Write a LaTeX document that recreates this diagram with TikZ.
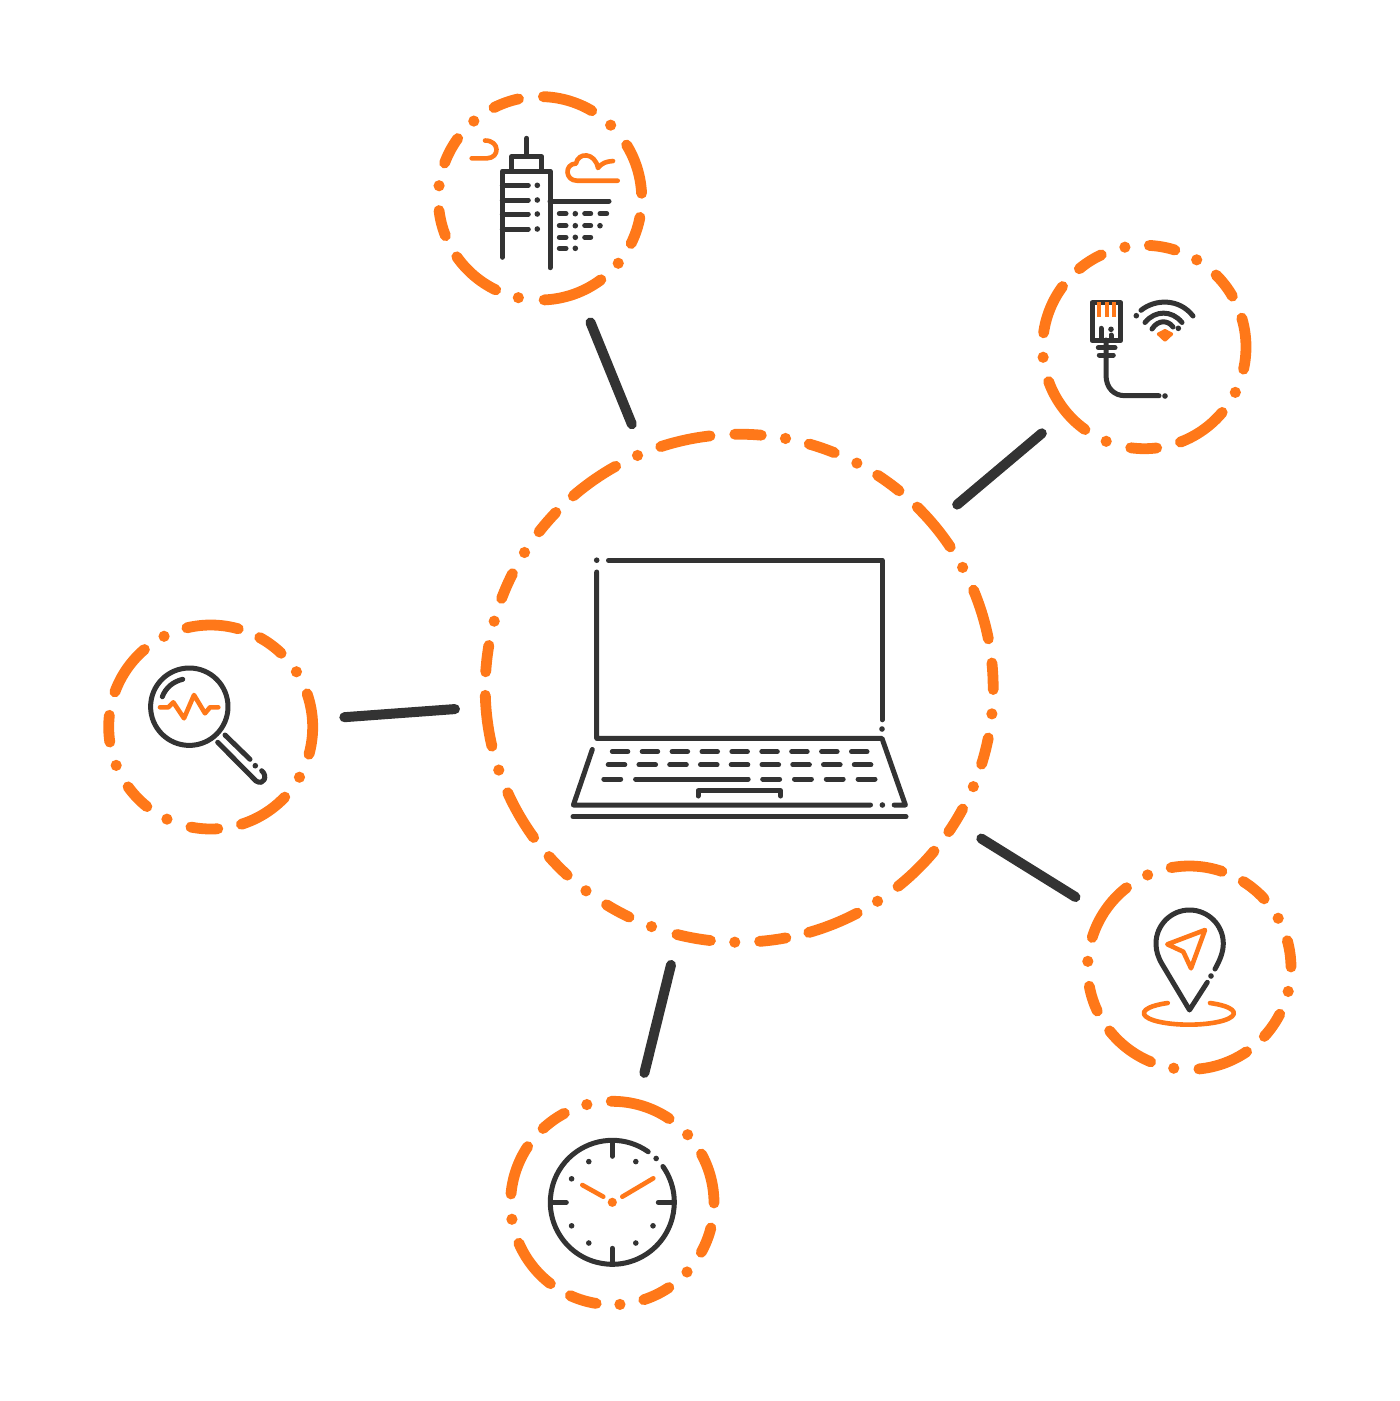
\documentclass[tikz,border=0pt]{standalone}
\definecolor{ringorange}{RGB}{255,120,25}
\definecolor{icondark}{RGB}{51,51,51}
\usetikzlibrary{positioning}
\tikzset{
    hubspot/.style={circle, minimum size=570pt, inner sep=0pt, outer sep=0pt},
    sitespot/.style={circle, minimum size=268pt, inner sep=0pt, outer sep=0pt},
    link/.style={draw=icondark, line width=10pt, line cap=round},
    ringline/.style={draw=ringorange, line width=10.8pt, line cap=round},
    ringdot/.style={fill=ringorange},
    icon/.style={draw=icondark, line width=5pt, line cap=round, line join=round},
    iconhot/.style={draw=ringorange, line width=4.6pt, line cap=round, line join=round},
    icondot/.style={fill=icondark}
}
\newcommand{\ringmarks}[4]{
    \foreach \a/\b in {#3}
        \draw[ringline] ([shift={(\a:#2)}]#1.center) arc[start angle=\a, end angle=\b, radius=#2];
    \foreach \a in {#4}
        \fill[ringdot] ([shift={(\a:#2)}]#1.center) circle (5.6);
}
\begin{document}
\begin{tikzpicture}[x=1pt, y=-1pt]
    \useasboundingbox (0,0) rectangle (1400,1401);
    \node[hubspot] (hub) at (739.2,688.2) {};
    \node[sitespot] (office) at (540,198.3) {};
    \node[sitespot] (wifi) at (1144.3,347) {};
    \node[sitespot] (search) at (210.7,727) {};
    \node[sitespot] (nav) at (1189.3,967.7) {};
    \node[sitespot] (clock) at (612.3,1203) {};

    \draw[link] (hub) -- (office);
    \draw[link] (hub) -- (wifi);
    \draw[link] (hub) -- (search);
    \draw[link] (hub) -- (nav);
    \draw[link] (hub) -- (clock);

    \ringmarks{hub}{254}{269/275, 286/292, 303/309, 314.5/326.2, 337.3/348.8, 354.3/360.3,
        11.3/17.4, 28.4/34.4, 39.9/51.3, 62.3/74.1, 79.4/85.4, 96.5/104.2, 115.7/121.5,
        132.6/138.5, 144/155.7, 166.8/178.4, 183.7/189.7, 200.7/206.8, 218/223.8, 229.2/240.9, 252/263.4}
        {280.5, 297.6, 331.6, 5.8, 22.8, 57, 91, 110.2, 127.1, 161.2, 195.3, 212.3, 246.4}
    \ringmarks{office}{101.7}{243.1/257.8, 271.9/300.6, 328.4/357.2, 10.8/26.4, 53.2/87.7,
        115.8/144.9, 158.4/173.1, 200.3/216}
        {314, 39.7, 102.3, 187.1, 229.4}
    \ringmarks{wifi}{101.7}{230.3/245, 272.8/287.5, 314.9/330, 343.5/372.6, 40/69.2, 83/97.7,
        125.7/160.1, 188/216.5}
        {259, 301, 26.5, 112, 174.2}
    \ringmarks{search}{102}{256.5/285.7, 298.7/313.7, 341/375.5, 43.4/72.5, 86/101.2,
        128.7/144.1, 171.5/186.6, 200.1/229.5}
        {327.2, 29.5, 115.4, 157.9, 242.8}
    \ringmarks{nav}{101.7}{259.7/288.7, 302/317.4, 344.6/359.6, 27.2/42.5, 55.7/84.6,
        112.3/141.6, 154.8/169.5, 197.3/231.9}
        {330.9, 13.5, 98.8, 183.6, 245.8}
    \ringmarks{clock}{101.7}{269.4/304, 331.2/360, 14.2/29, 56.2/72, 99.1/114.4,
        127.5/156.7, 185.1/213.7, 227.1/241.9}
        {317.8, 42.7, 85.7, 170.8, 255.5}

    \draw[icon] (608.5,560.2) -- (882,560.2) -- (882,719.8);
    \draw[icon] (596.7,572) -- (596.7,738.4) -- (882,738.4) -- (905.4,805) -- (894.2,805);
    \draw[icon] (870.5,805) -- (573.4,805) -- (592.3,749.5);
    \draw[icon] (573,816.8) -- (906,816.8);
    \draw[icon] (698,796) -- (698,790.8) -- (780.6,790.8) -- (780.6,796);
    \fill[icondot] (596.7,560.2) circle (2.8) (882,729) circle (2.8) (882.4,805) circle (2.8);
    \foreach \i in {0,...,8}
        \draw[icon] (612.3+29.9*\i,751.6) -- (627.8+29.9*\i,751.6);
    \foreach \i in {0,...,8}
        \draw[icon] (608.2+30.76*\i,764.8) -- (624.8+30.76*\i,764.8);
    \draw[icon] (603.8,779) -- (620.7,779);
    \draw[icon] (635.6,779) -- (748.2,779);
    \foreach \i in {0,...,3}
        \draw[icon] (762.7+31.8*\i,779) -- (779.6+31.8*\i,779);

    \draw[icon] (526.7,138.3) -- (526.7,155);
    \draw[icon] (511.7,170) -- (511.7,156.7) -- (541.7,156.7) -- (541.7,170);
    \draw[icon] (502.3,257.3) -- (502.3,171) -- (550,171) -- (550,267.7);
    \foreach \y in {185.3,200,214,229} {
        \draw[icon] (502.3,\y) -- (528.3,\y);
        \fill[icondot] (537.3,\y) circle (2.8);
    }
    \draw[icon] (550,201) -- (609,201);
    \foreach \y in {213.7,225.7,237.3,248.3} {
        \draw[icon] (559.3,\y) -- (566,\y);
        \fill[icondot] (575.3,\y) circle (2.8);
    }
    \foreach \y in {213.7,225.7,237.3}
        \draw[icon] (584.7,\y) -- (590.7,\y);
    \draw[icon] (600,213.7) -- (606.7,213.7);
    \fill[icondot] (600,225.7) circle (2.8);
    \draw[iconhot] (617.7,180.7) -- (577,180.7) .. controls (565,180.7) and (564,164) .. (576,163.5)
        .. controls (578,152) and (595,152) .. (598,168) .. controls (602,163) and (606,161.5) .. (613,161);
    \draw[iconhot] (471.7,158.3) -- (487,158.3) .. controls (500,158) and (500,140.5) .. (485,140.5);

    \draw[icon] (1094,302.7) -- (1120.7,302.7) -- (1120.7,340.7) -- (1092,340.7) -- (1092,302.7) -- (1094,302.7);
    \foreach \x in {1099.3,1106.7,1113.7}
        \draw[iconhot, line width=3.9pt, line cap=butt] (\x,302) -- (\x,317.3);
    \draw[icon] (1101,328.3) -- (1101,340);
    \fill[icondot] (1111,329.3) circle (2.8);
    \draw[icon] (1111,335) -- (1111,340);
    \draw[icon] (1098.3,347.7) -- (1115,347.7);
    \draw[icon] (1099.3,355) -- (1113.3,355);
    \draw[icon] (1106,340) -- (1106,375) .. controls (1106,388) and (1114,395.7) .. (1125,395.7) -- (1159,395.7);
    \fill[icondot] (1165,396) circle (2.8) (1136.3,315.7) circle (2.8) (1178.3,328.3) circle (2.8);
    \draw[icon] (1141,310.3) .. controls (1155,299) and (1179,298) .. (1193,316);
    \draw[icon] (1145,322.5) .. controls (1155,310) and (1172,310) .. (1182,322.5);
    \draw[icon] (1152,329) .. controls (1158,319.5) and (1168,320) .. (1173,327);
    \draw[iconhot, fill=ringorange, line width=3pt] (1158.3,334) -- (1165,330.5) -- (1171.7,334) -- (1165,340.3) -- cycle;

    \draw[icon] (189.3,706.7) circle (38.7);
    \draw[icon] (162.3,696.7) .. controls (165.5,688) and (173,681.5) .. (182.7,679.3);
    \draw[iconhot] (160,707.3) -- (168.3,707.3) -- (173.3,702.3) -- (184,718.3) -- (194,695) -- (205,713.3) -- (210,707.3) -- (218.3,707.3);
    \draw[icon] (225,735) -- (250,759.3);
    \fill[icondot] (255.3,765.7) circle (2.8);
    \draw[icon] (261.7,770.7) .. controls (268,776) and (264,786) .. (256,781) -- (217.7,742.3);

    \draw[icon] (1215,969) .. controls (1220,960) and (1223.3,952) .. (1223.3,943.5)
        .. controls (1223.3,925) and (1208,910) .. (1189.5,910)
        .. controls (1171,910) and (1156,925) .. (1156,943.5)
        .. controls (1156,951) and (1158,957) .. (1162,964) -- (1189.5,1010) -- (1207.3,982.3);
    \fill[icondot] (1211,976) circle (2.8);
    \draw[iconhot] (1205,930) -- (1167.3,944.3) -- (1183.3,951.7) -- (1191,968.3) -- cycle;
    \draw[iconhot] (1210,1003) arc[start angle=-62, end angle=242, x radius=45, y radius=11.5];

    \draw[icon] (612.3,1202.3) ++(324.7:62) arc[start angle=324.7, end angle=665.4, radius=62];
    \fill[icondot] (612.3,1202.3) ++(315:62) circle (2.8);
    \foreach \a in {0,90,180,270}
        \draw[icon] (612.3,1202.3) ++(\a:61) -- ++(\a+180:15);
    \foreach \a in {30,60,120,150,210,240,300}
        \fill[icondot] (612.3,1202.3) ++(\a:47) circle (2.8);
    \draw[iconhot] (582.3,1185) -- (603.3,1196.7);
    \draw[iconhot] (622.3,1196.7) -- (653.3,1178.3);
    \fill[ringdot] (612.3,1202.3) circle (4.6);
\end{tikzpicture}
\end{document}
